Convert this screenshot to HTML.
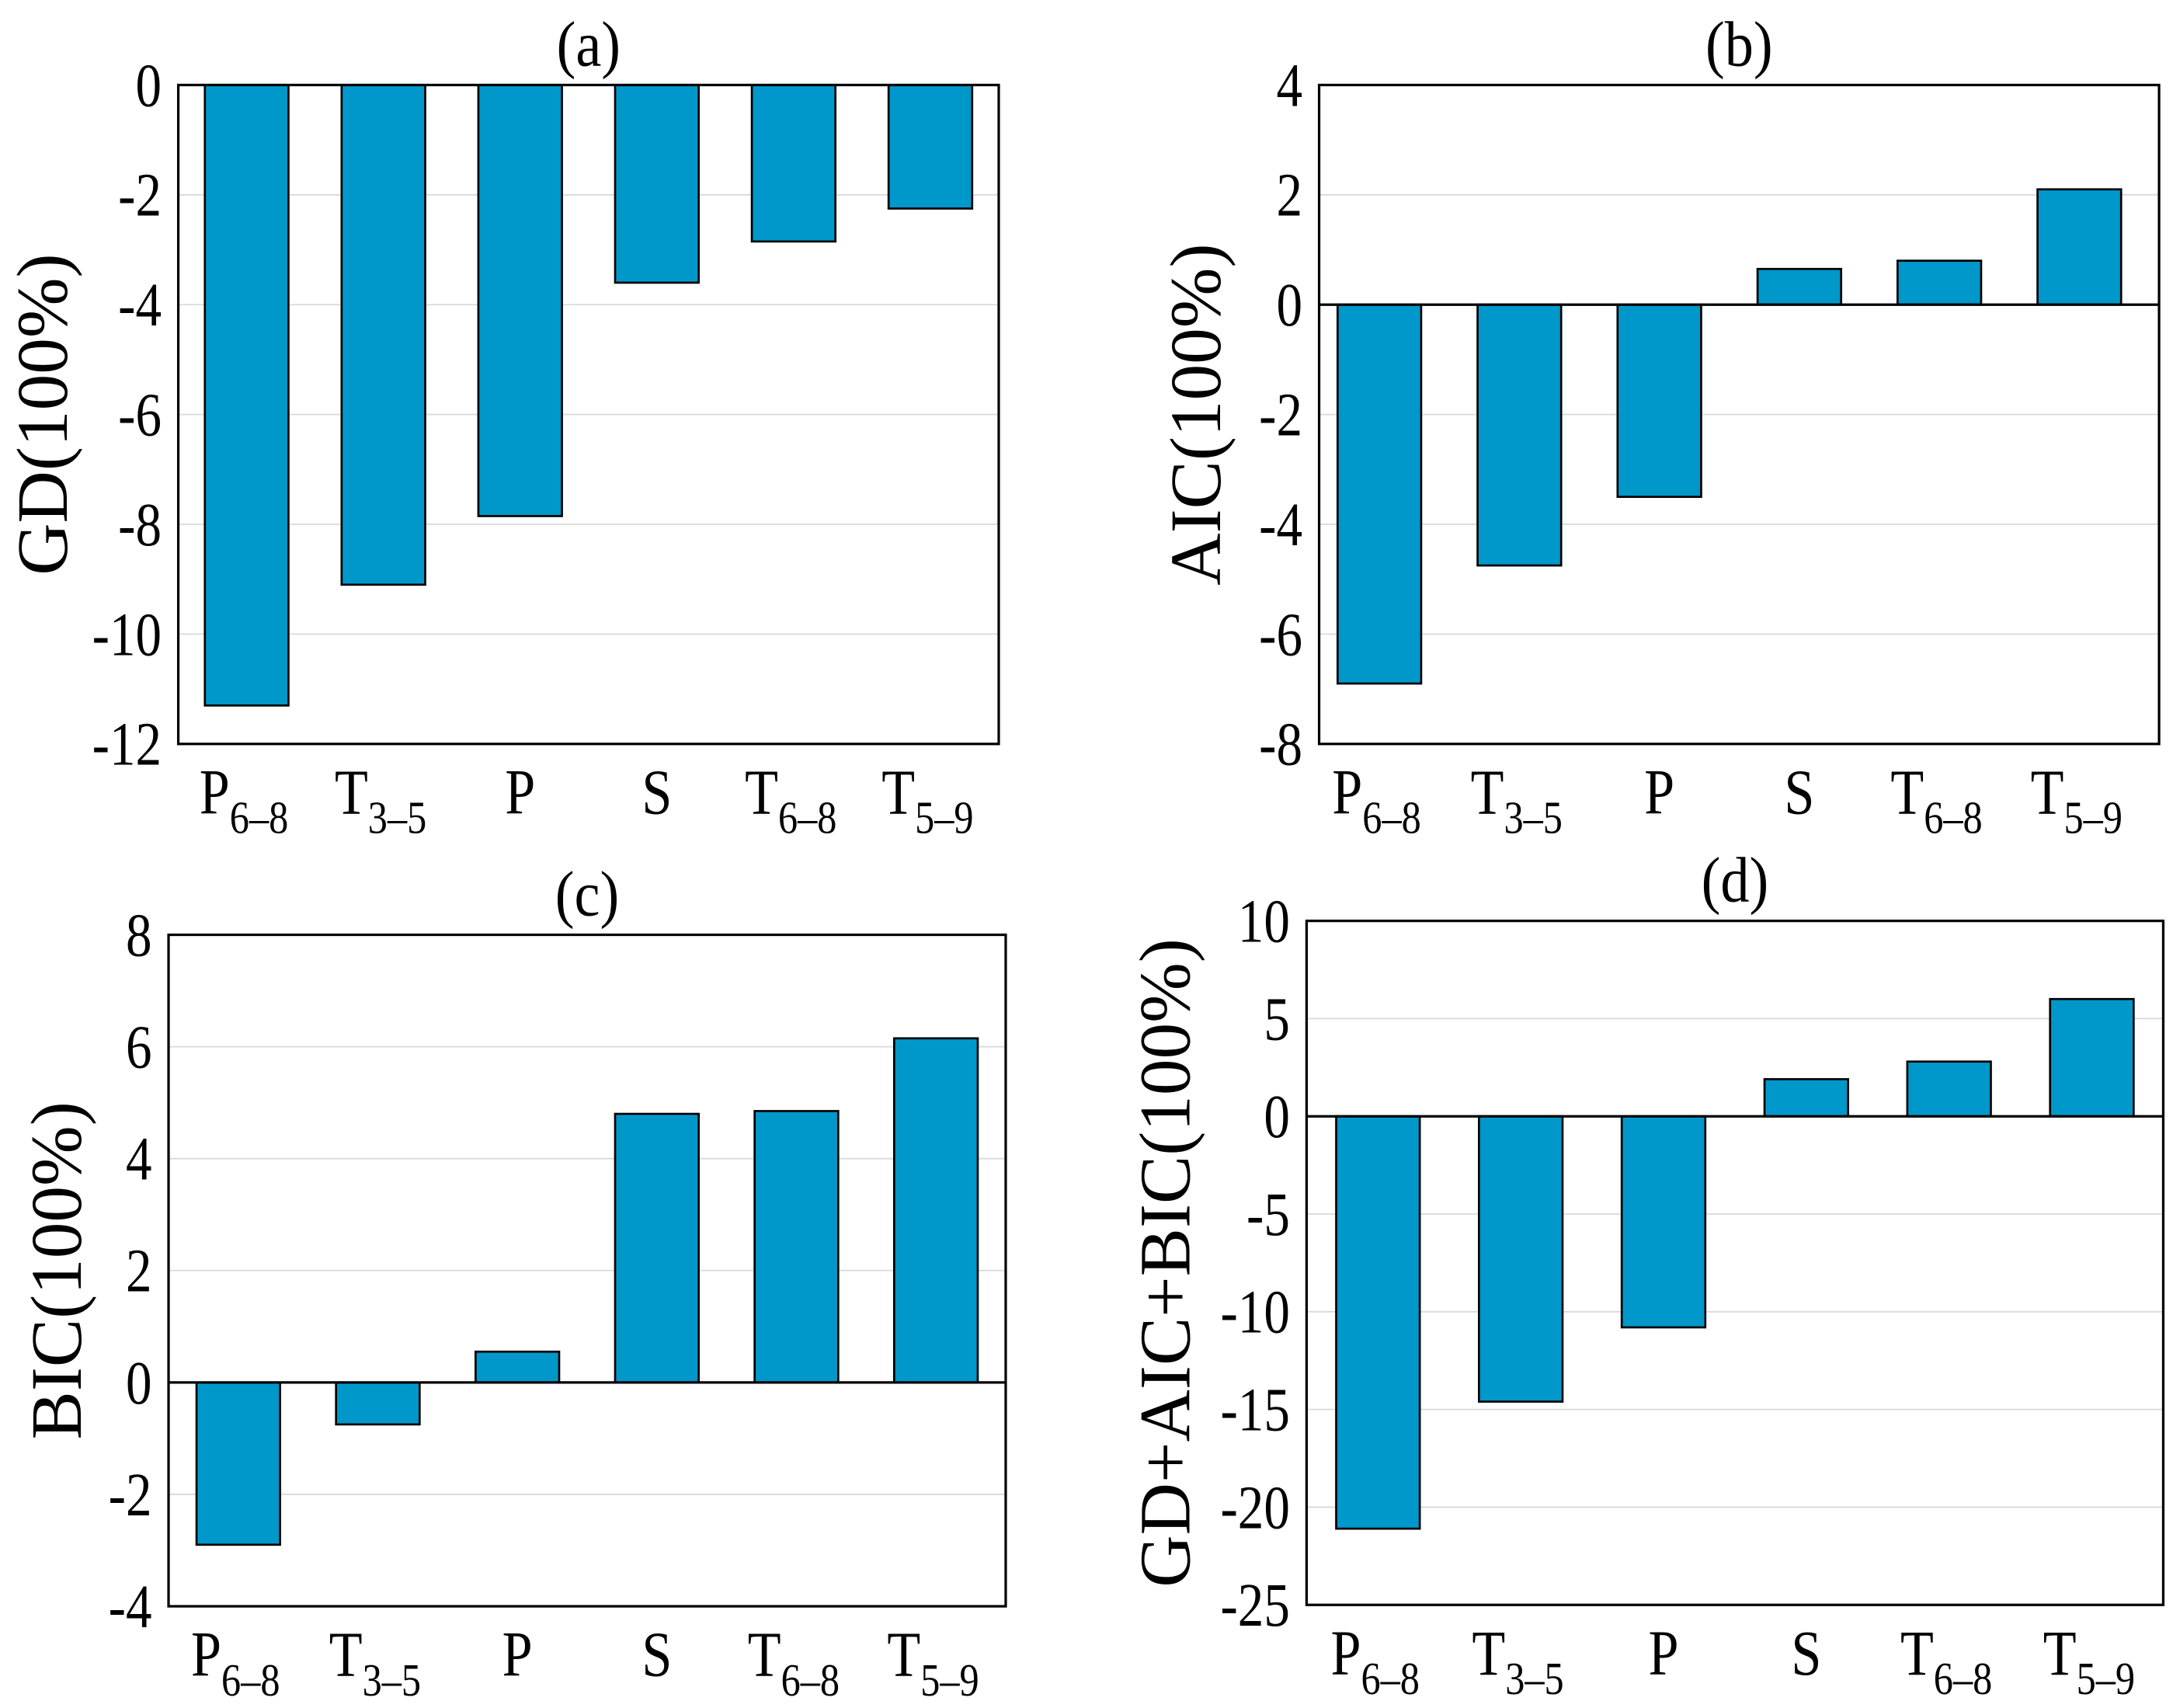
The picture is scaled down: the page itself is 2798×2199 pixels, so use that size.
<!DOCTYPE html>
<html><head><meta charset="utf-8"><style>
html,body{margin:0;padding:0;background:#fff;}
svg{display:block;}
text{font-family:"Liberation Serif",serif;fill:#000;}
</style></head><body>
<svg id="fig" width="2798" height="2199" viewBox="0 0 1560 1226" xmlns="http://www.w3.org/2000/svg"></svg>
<script>
const categories = ["P","T","P","S","T","T"];
const subs = ["6–8","3–5","","","6–8","5–9"];
const valuesA = [-11.3, -9.1, -7.85, -3.6, -2.85, -2.25];
const valuesB = [-6.9, -4.75, -3.5, 0.65, 0.8, 2.1];
const valuesC = [-2.9, -0.75, 0.55, 4.8, 4.85, 6.15];
const valuesD = [-21.1, -14.6, -10.8, 1.9, 2.8, 6.0];
const ticksA = [0,-2,-4,-6,-8,-10,-12];
const ticksB = [4,2,0,-2,-4,-6,-8];
const ticksC = [8,6,4,2,0,-2,-4];
const ticksD = [10,5,0,-5,-10,-15,-20,-25];

const NS = "http://www.w3.org/2000/svg";
const svg = document.getElementById('fig');
function mk(tag, attrs, parent){
  const e = document.createElementNS(NS, tag);
  for (const k in attrs) e.setAttribute(k, attrs[k]);
  (parent||svg).appendChild(e);
  return e;
}
const panels = [
  {id:"a", title:"(a)", ylabel:"GD(100%)", vals:valuesA, ticks:ticksA, x0:128, x1:717, y0:61, y1:534, lblX:30, shift:0},
  {id:"b", title:"(b)", ylabel:"AIC(100%)", vals:valuesB, ticks:ticksB, x0:947, x1:1550, y0:61, y1:534, lblX:858, shift:-7},
  {id:"c", title:"(c)", ylabel:"BIC(100%)", vals:valuesC, ticks:ticksC, x0:121, x1:722, y0:671, y1:1153, lblX:40, shift:0},
  {id:"d", title:"(d)", ylabel:"GD+AIC+BIC(100%)", vals:valuesD, ticks:ticksD, x0:938, x1:1553, y0:661, y1:1152, lblX:836, shift:0}
];
panels.forEach(p=>{
  const g = mk('g', {});
  
  
  const tmax = Math.max(...p.ticks), tmin = Math.min(...p.ticks);
  const y = v => p.y0 + (tmax - v) / (tmax - tmin) * (p.y1 - p.y0);
  const n = p.vals.length, step = (p.x1 - p.x0) / n;
  const xc = i => p.x0 + p.shift + step * (i + 0.5);
  const bw = 60;
  p.ticks.forEach(t=>{
    if (t !== tmax && t !== tmin && t !== 0){
      const l = mk('line', {x1:p.x0, x2:p.x1, y1:y(t), y2:y(t), stroke:'#d9d9d9', 'stroke-width':1}, g);
      
      
    }
    const tx = mk('text', {'font-size':44, 'text-anchor':'end', transform:`translate(${p.x0-12} ${y(t)+15}) scale(0.85 1)`}, g);
    
    
    tx.textContent = String(t);
  });
  p.vals.forEach((v,i)=>{
    const top = Math.min(y(v), y(0)), h = Math.abs(y(v) - y(0));
    const r = mk('rect', {x:xc(i)-bw/2, y:top, width:bw, height:h, fill:'#0098cb', stroke:'#000', 'stroke-width':1.5}, g);
    
    
    const tx = mk('text', {'font-size':46, 'text-anchor':'middle', transform:`translate(${xc(i) + (subs[i] ? -2 : 0)} ${p.y1+50}) scale(0.85 1)`}, g);
    
    
    tx.textContent = categories[i];
    if (subs[i]){
      const s = mk('tspan', {'font-size':33, dy:14}, tx);
      s.textContent = subs[i];
    }
  });
  if (tmax > 0 && tmin < 0){
    const z = mk('line', {x1:p.x0, x2:p.x1, y1:y(0), y2:y(0), stroke:'#000', 'stroke-width':1.8}, g);
    
    
  }
  const fr = mk('rect', {x:p.x0, y:p.y0, width:p.x1-p.x0, height:p.y1-p.y0, fill:'none', stroke:'#000', 'stroke-width':1.8}, g);
  
  
  const t = mk('text', {'font-size':46, 'text-anchor':'middle', transform:`translate(${(p.x0+p.x1)/2} ${p.y0-14}) scale(0.9 1)`}, g);
  
  
  t.textContent = p.title;
  const cy = (p.y0+p.y1)/2;
  const yl = mk('text', {x:p.lblX, y:cy, 'font-size':52, 'text-anchor':'middle', transform:`rotate(-90 ${p.lblX} ${cy}) translate(0 18)`}, g);
  
  
  yl.textContent = p.ylabel;
});
</script>
</body></html>
